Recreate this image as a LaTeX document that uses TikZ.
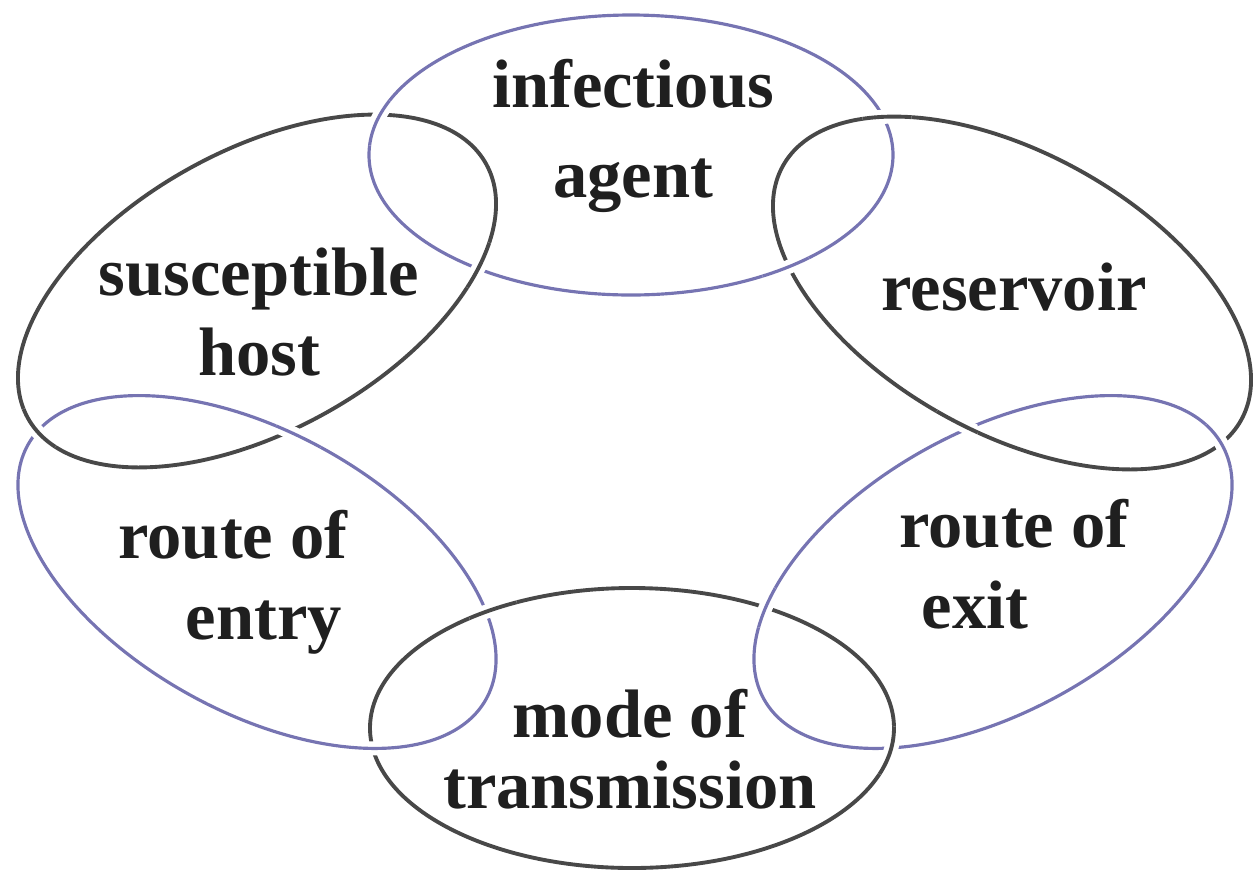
\documentclass[tikz,border=0pt]{standalone}
\usepackage{fontspec}
\setmainfont{Liberation Serif}

\definecolor{ringblue}{RGB}{118,116,178}
\definecolor{ringdark}{RGB}{72,72,72}

% one link of the chain: centre, tilt, style
\newcommand{\ring}[3]{\draw[shift={#1},rotate=#2,#3] (0,0) ellipse [x radius=262, y radius=140];}
% the same link again on top, near one crossing
\newcommand{\ringover}[4]{%
  \begin{scope}
    \clip #1 circle (25);
    \ring{#2}{#3}{draw=white,line width=4pt}
    \ring{#2}{#3}{#4}
  \end{scope}}

\begin{document}
\begin{tikzpicture}[x=0.01cm,y=-0.01cm]
    \tikzset{every node/.style={font=\fontsize{19.5}{23}\selectfont\bfseries,text=black!88,align=center,inner sep=0pt}}
    \tikzset{blue ring/.style={draw=ringblue,line width=0.9pt}}
    \tikzset{dark ring/.style={draw=ringdark,line width=1.1pt}}

    \useasboundingbox (0,0) rectangle (1257,878);

    \ring{(631,155)}{0}{blue ring}
    \ring{(1012,293)}{-29}{dark ring}
    \ring{(993,572)}{29}{blue ring}
    \ring{(632,728)}{0}{dark ring}
    \ring{(257,572)}{-29}{blue ring}
    \ring{(257,291)}{29}{dark ring}

    % over / under at the crossings
    \ringover{(375,121)}{(631,155)}{0}{blue ring}
    \ringover{(478,265)}{(257,291)}{29}{dark ring}
    \ringover{(887,122)}{(1012,293)}{-29}{dark ring}
    \ringover{(786,268)}{(631,155)}{0}{blue ring}
    \ringover{(37,430)}{(257,291)}{29}{dark ring}
    \ringover{(300,433)}{(257,572)}{-29}{blue ring}
    \ringover{(953,430)}{(1012,293)}{-29}{dark ring}
    \ringover{(1217,447)}{(993,572)}{29}{blue ring}
    \ringover{(493,610)}{(632,728)}{0}{dark ring}
    \ringover{(371,747)}{(257,572)}{-29}{blue ring}
    \ringover{(755,603)}{(993,572)}{29}{blue ring}
    \ringover{(886,750)}{(632,728)}{0}{dark ring}

    \node (agent) at (633,136) {infectious\\[2.6pt]agent};
    \node (reservoir) at (1014,287) {reservoir};
    \node (exit) at (1014,564) {route of\\exit\hspace*{0.78cm}};
    \node (mode) at (630,749) {mode of\\[-2.8pt]transmission};
    \node (entry) at (233,582) {route of\\\hspace*{0.62cm}entry};
    \node (host) at (259,312) {susceptible\\host};
\end{tikzpicture}
\end{document}
